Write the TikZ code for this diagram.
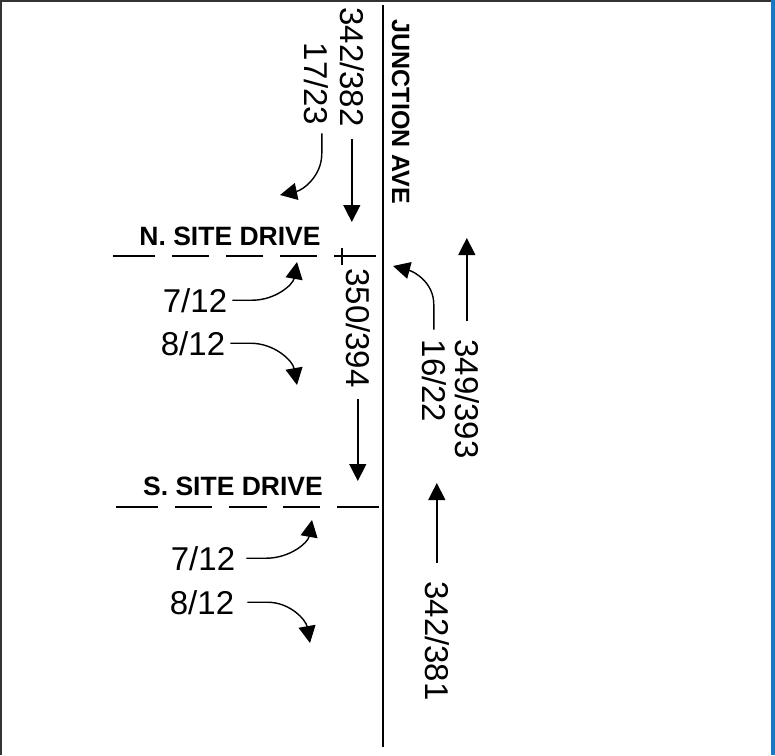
\documentclass[tikz,border=0pt]{standalone}
\usepackage{fontspec}
\setmainfont{Liberation Sans}
\usepackage{xcolor}
\usepackage{tikz}
\usetikzlibrary{arrows.meta, positioning, calc}

\definecolor{framegray}{HTML}{333333}
\definecolor{frameblue}{HTML}{1A78C2}

\begin{document}
\begin{tikzpicture}[
    x=1pt, y=1pt,
    vol/.style={font=\fontsize{33}{36}\selectfont, inner sep=0, anchor=base},
    roadname/.style={font=\bfseries\fontsize{26.5}{28}\selectfont, inner sep=0, anchor=base},
    mv/.style={-{Triangle[length=17pt,width=17pt]}, line width=1.4pt},
    road/.style={line width=1.6pt}
]
    \useasboundingbox (0,0) rectangle (775,-755);

    % frame
    \draw[framegray, line width=1.5pt] (1,-755) -- (1,-1) -- (771,-1);
    \fill[frameblue] (771,0) rectangle (775,-755);

    % junction ave
    \draw[road] (383,-5) -- (383,-747);
    \node[roadname, font=\bfseries\fontsize{25}{27}\selectfont, rotate=-90] (junction) at (392,-112) {JUNCTION AVE};

    % north site drive
    \node[roadname] (ndrive) at (230,-245) {N. SITE DRIVE};
    \foreach \a/\b in {113/155, 172/209, 226/263, 280/317, 334/376}
        \draw[road] (\a,-256) -- (\b,-256);
    \draw[road] (342,-248) -- (342,-265);

    % south site drive
    \node[roadname] (sdrive) at (233,-495) {S. SITE DRIVE};
    \foreach \a/\b in {116/158, 175/212, 229/267, 283/320, 337/379}
        \draw[road] (\a,-507) -- (\b,-507);

    % volumes, north leg
    \node[vol, rotate=-90] (sbN)  at (340,-67) {342/382};
    \node[vol, rotate=-90] (rtN)  at (304,-84) {17/23};
    \coordinate (sbNtip) at (351,-222);
    \coordinate (rtNtip) at (280,-195);
    \draw[mv] ([yshift=-12pt]sbN.east) -- (sbN.east |- sbNtip);
    \draw[mv] ([xshift=6pt,yshift=-8pt]rtN.east) -- ++(0,-20) to[out=-90,in=12] (rtNtip);

    % N. site drive approach
    \node[vol] (rtoutN) at (195,-312) {7/12};
    \node[vol] (ltoutN) at (193,-355) {8/12};
    \coordinate (rtoutNtip) at (297,-262);
    \coordinate (ltoutNtip) at (297,-385);
    \draw[mv] ([xshift=5pt]rtoutN.east) -- ++(20,0) to[out=0,in=-100] (rtoutNtip);
    \draw[mv] ([xshift=5pt]ltoutN.east) -- ++(20,0) to[out=0,in=100] (ltoutNtip);

    % volumes between drives
    \node[vol, rotate=-90] (sbM)  at (346,-328) {350/394};
    \node[vol, rotate=-90] (ltN)  at (422,-381) {16/22};
    \node[vol, rotate=-90] (nbM)  at (455,-399) {349/393};
    \coordinate (sbMtip) at (357,-481);
    \coordinate (ltNtip) at (393,-266);
    \coordinate (nbMtip) at (466,-238);
    \draw[mv] ([yshift=-11pt]sbM.east) -- (sbM.east |- sbMtip);
    \draw[mv] ([yshift=10pt]ltN.west) -- ++(0,25) to[out=90,in=-15] (ltNtip);
    \draw[mv] ([yshift=18pt]nbM.west) -- (nbM.west |- nbMtip);

    % S. site drive approach
    \node[vol] (rtoutS) at (203,-570) {7/12};
    \node[vol] (ltoutS) at (202,-614) {8/12};
    \coordinate (rtoutStip) at (312,-520);
    \coordinate (ltoutStip) at (310,-643);
    \draw[mv] ([xshift=11pt]rtoutS.east) -- ++(20,0) to[out=0,in=-100] (rtoutStip);
    \draw[mv] ([xshift=13pt]ltoutS.east) -- ++(20,0) to[out=0,in=100] (ltoutStip);

    % south leg
    \node[vol, rotate=-90] (nbS) at (425,-641) {342/381};
    \coordinate (nbStip) at (438,-483);
    \draw[mv] ([yshift=18pt]nbS.west) -- (nbS.west |- nbStip);
\end{tikzpicture}
\end{document}
